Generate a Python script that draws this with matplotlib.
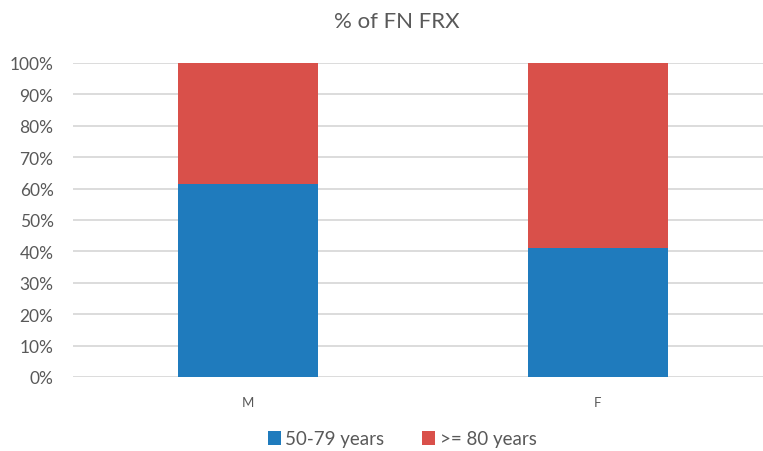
import matplotlib.pyplot as plt
from matplotlib.ticker import PercentFormatter, MultipleLocator

categories = ['M', 'F']
young = [61.5, 41.1]   # 50-79 years
old = [38.5, 58.9]     # >= 80 years
labels = ['50-79 years', '>= 80 years']
colors = ['#1F7BBD', '#D9504A']

plt.rcParams['font.family'] = ['Lato', 'DejaVu Sans']
text_col = '#595959'

fig = plt.figure(figsize=(7.63, 4.52), dpi=100)
ax = fig.add_axes([73 / 763, 1 - 378 / 452, 1 - 73 / 763, (378 - 64) / 452])

x = range(len(categories))
ax.bar(x, young, width=0.4, color=colors[0], label=labels[0], zorder=3)
ax.bar(x, old, width=0.4, bottom=young, color=colors[1], label=labels[1], zorder=3)

ax.set_xlim(-0.5, 1.473)
ax.set_ylim(0, 100)
ax.yaxis.set_major_locator(MultipleLocator(10))
ax.yaxis.set_major_formatter(PercentFormatter(decimals=0))
ax.set_xticks(list(x))
ax.set_xticklabels(categories)
ax.grid(axis='y', color='#D9D9D9', linewidth=1.3, zorder=0)
for s in ax.spines.values():
    s.set_visible(False)
ax.tick_params(length=0, colors=text_col)
ax.tick_params(axis='x', pad=14, labelsize=9.5)
ax.tick_params(axis='y', pad=14, labelsize=12.5)

fig.text(0.52, 1 - 22 / 452, '% of FN FRX', ha='center', va='center',
         fontsize=16, color=text_col)

fig.legend(loc='center', bbox_to_anchor=(0.527, 1 - 440 / 452), ncol=2,
           frameon=False, fontsize=13.5, labelcolor=text_col,
           handlelength=0.7, handleheight=0.7, handletextpad=0.25,
           columnspacing=2.0)

fig.savefig('out.png', dpi=100)
